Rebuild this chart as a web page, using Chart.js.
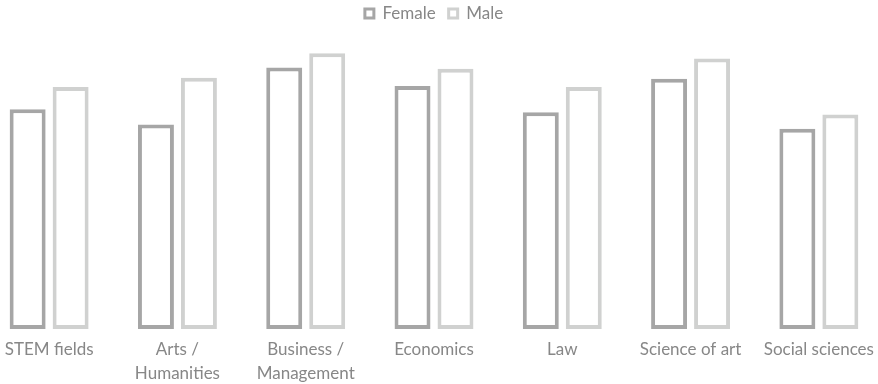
<!DOCTYPE html>
<html>
<head>
<meta charset="utf-8">
<script src="https://cdn.jsdelivr.net/npm/chart.js@4.4.1/dist/chart.umd.min.js"></script>
<style>
html,body{margin:0;padding:0;background:#ffffff;overflow:hidden;}
#wrap{position:relative;width:878px;height:384px;overflow:hidden;}
#c{position:absolute;left:-15px;top:0;}
</style>
</head>
<body>
<div id="wrap"><canvas id="c" width="898" height="394"></canvas></div>
<script>
const categories = [["STEM fields"], ["Arts /", "Humanities"], ["Business /", "Management"], ["Economics"], ["Law"], ["Science of art"], ["Social sciences"]];
const femaleValues = [216, 201, 257, 239, 213, 246, 197];
const maleValues = [238, 247, 271, 256, 238, 266, 211];
const seriesNames = ["Female", "Male"];

const textColor = "#878787";
const fontFamily = "Lato, 'Open Sans', sans-serif";

new Chart(document.getElementById("c"), {
  type: "bar",
  data: {
    labels: categories,
    datasets: [
      { label: seriesNames[0], data: femaleValues, backgroundColor: "#ffffff", borderColor: "#a6a6a6", borderWidth: 4, borderSkipped: false, categoryPercentage: 0.67, barPercentage: 0.837 },
      { label: seriesNames[1], data: maleValues, backgroundColor: "#ffffff", borderColor: "#d0d1d0", borderWidth: 4, borderSkipped: false, categoryPercentage: 0.67, barPercentage: 0.837 }
    ]
  },
  options: {
    responsive: false,
    maintainAspectRatio: false,
    animation: false,
    layout: { padding: { top: -8, left: 0, right: 0, bottom: 0 } },
    plugins: {
      tooltip: { enabled: false },
      legend: {
        position: "top",
        labels: {
          color: textColor,
          font: { family: fontFamily, size: 17 },
          boxWidth: 9,
          boxHeight: 9,
          padding: 13,
          generateLabels(chart) {
            return chart.data.datasets.map((ds, i) => ({
              text: ds.label,
              fillStyle: "#ffffff",
              strokeStyle: ds.borderColor,
              lineWidth: 3,
              fontColor: textColor,
              hidden: false,
              datasetIndex: i
            }));
          }
        }
      }
    },
    scales: {
      x: {
        grid: { display: false, drawTicks: false },
        border: { display: false },
        ticks: {
          color: textColor,
          font: { family: fontFamily, size: 17, lineHeight: 1.38 },
          padding: 9,
          maxRotation: 0,
          autoSkip: false
        }
      },
      y: {
        display: false,
        min: 0,
        max: 292
      }
    }
  }
});
</script>
</body>
</html>
